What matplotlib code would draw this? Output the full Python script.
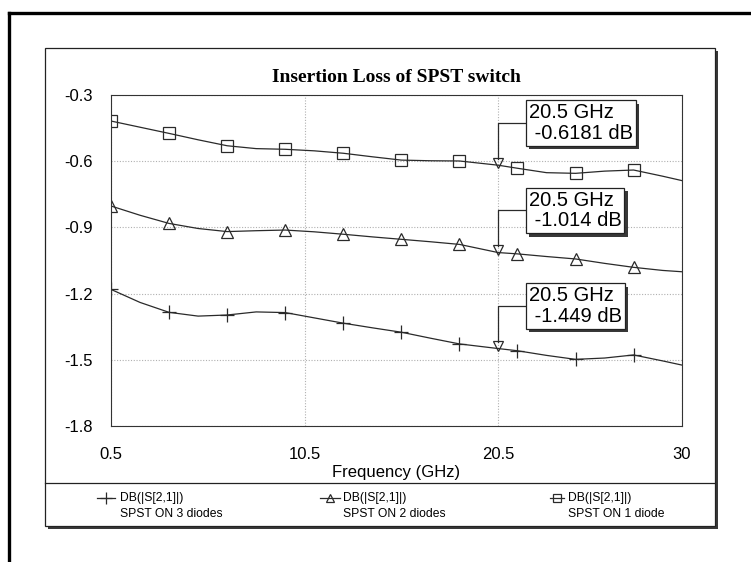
import matplotlib
matplotlib.use("Agg")
import matplotlib.pyplot as plt
import matplotlib.patheffects as pe
from matplotlib.patches import Rectangle
from matplotlib.lines import Line2D

# ---- data ----
freq = [0.5, 2, 3.5, 5, 6.5, 8, 9.5, 11, 12.5, 14, 15.5, 17, 18.5, 20.5,
        21.5, 23, 24.5, 26, 27.5, 29, 30]
s21_1diode = [-0.418, -0.446, -0.474, -0.503, -0.530, -0.543, -0.546, -0.553,
              -0.564, -0.580, -0.595, -0.598, -0.599, -0.6181, -0.632, -0.652,
              -0.655, -0.645, -0.640, -0.668, -0.688]
s21_2diodes = [-0.803, -0.845, -0.882, -0.905, -0.919, -0.915, -0.912, -0.920,
               -0.931, -0.943, -0.954, -0.965, -0.977, -1.014, -1.020, -1.032,
               -1.043, -1.063, -1.081, -1.095, -1.101]
s21_3diodes = [-1.181, -1.240, -1.285, -1.302, -1.297, -1.283, -1.286, -1.310,
               -1.334, -1.355, -1.375, -1.402, -1.428, -1.449, -1.459, -1.480,
               -1.498, -1.492, -1.478, -1.505, -1.524]
marker_idx = [0, 2, 4, 6, 8, 10, 12, 14, 16, 18]
x_ticks = [0.5, 10.5, 20.5, 30]
y_ticks = [-1.8, -1.5, -1.2, -0.9, -0.6, -0.3]
series_names = ["SPST ON 3 diodes", "SPST ON 2 diodes", "SPST ON 1 diode"]
trace_name = "DB(|S[2,1]|)"
marker_freq = 20.5
title = "Insertion Loss of SPST switch"
xlabel = "Frequency (GHz)"

W, H = 751, 562
fig = plt.figure(figsize=(W / 100, H / 100), dpi=100)
fig.patch.set_facecolor("white")

def fx(px):
    return px / W

def fy(py):
    return 1 - py / H

# outer frame (top and left lines)
fig.add_artist(Line2D([fx(9), fx(9)], [fy(13), 0], color="black", lw=2.4,
                      transform=fig.transFigure))
fig.add_artist(Line2D([fx(9), 1], [fy(13), fy(13)], color="black", lw=2.4,
                      transform=fig.transFigure))

# chart box with shadow
box = Rectangle((fx(45), fy(526)), fx(715) - fx(45), fy(48) - fy(526),
                transform=fig.transFigure, fc="white", ec="#222222", lw=0.9,
                zorder=0)
box.set_path_effects([pe.SimplePatchShadow(offset=(2.5, -2.5), shadow_rgbFace="#222222", alpha=0.9),
                      pe.Normal()])
fig.add_artist(box)
fig.add_artist(Line2D([fx(45), fx(715)], [fy(483), fy(483)], color="#222222",
                      lw=0.9, transform=fig.transFigure))

ax = fig.add_axes([fx(111), fy(426), fx(682) - fx(111), fy(95) - fy(426)])
ax.set_facecolor("white")
ax.set_zorder(2)

line_kw = dict(color="#2a2a2a", lw=0.9, mfc="none", mec="#2a2a2a", mew=0.9)
series = [
    (s21_3diodes, "+", 10),
    (s21_2diodes, "^", 8),
    (s21_1diode, "s", 8),
]
for vals, mk, ms in series:
    ax.plot(freq, vals, marker=mk, ms=ms, markevery=marker_idx, **line_kw)

ax.set_xlim(x_ticks[0], x_ticks[-1])
ax.set_ylim(y_ticks[0], y_ticks[-1])
ax.set_xticks(x_ticks)
ax.set_xticklabels([f"{v:g}" for v in x_ticks])
ax.set_yticks(y_ticks)
ax.set_yticklabels([f"{v:g}" for v in y_ticks])
ax.tick_params(axis="both", length=0, labelsize=12)
ax.tick_params(axis="x", pad=15)
ax.tick_params(axis="y", pad=13)
for lab in ax.get_xticklabels() + ax.get_yticklabels():
    lab.set_fontfamily("Liberation Sans")
ax.grid(True, ls=(0, (1, 1.5)), color="#b0b0b0", lw=0.8)
for sp in ax.spines.values():
    sp.set_color("#333333")
    sp.set_linewidth(0.8)

ax.set_xlabel(xlabel, fontsize=12, family="Liberation Sans", labelpad=2)
fig.text(fx(396.5), fy(77), title, ha="center", va="center",
         fontsize=14, fontweight="bold", family="Liberation Serif")

# marker annotations
idx = freq.index(marker_freq)
box_x = 21.93
box_y = [-0.427, -0.823, -1.256]
for vals, by in zip([s21_1diode, s21_2diodes, s21_3diodes], box_y):
    v = vals[idx]
    ax.plot([marker_freq], [v + 0.012], marker="v", ms=7, mfc="none",
            mec="#2a2a2a", mew=0.9, zorder=4)
    ax.plot([marker_freq, marker_freq, box_x], [v + 0.03, by, by],
            color="#2a2a2a", lw=0.9, zorder=4)
    t = ax.text(box_x + 0.15, by, f"{marker_freq:g} GHz\n {v:.4g} dB",
                ha="left", va="center", fontsize=14.5,
                family="Liberation Sans", linespacing=1.1, zorder=6,
                bbox=dict(boxstyle="square,pad=0.15", fc="white",
                          ec="#222222", lw=0.9))
    t.get_bbox_patch().set_path_effects(
        [pe.SimplePatchShadow(offset=(2.5, -2.5), shadow_rgbFace="#222222", alpha=0.9),
         pe.Normal()])

# legend (manual)
leg_x = [(97, 115, 120), (320, 340, 343), (550, 564, 568)]
for (x0, x1, tx), (vals, mk, ms), name in zip(leg_x, series, series_names):
    fig.add_artist(Line2D([fx(x0), fx(x1)], [fy(498), fy(498)],
                          transform=fig.transFigure, color="#2a2a2a", lw=0.9))
    fig.add_artist(Line2D([fx((x0 + x1) / 2)], [fy(498)], marker=mk,
                          ms=ms * 0.8, ls="none", mfc="none", mec="#2a2a2a",
                          mew=0.9, transform=fig.transFigure))
    fig.text(fx(tx), fy(498), trace_name, ha="left", va="center", fontsize=8.7,
             family="Liberation Sans")
    fig.text(fx(tx), fy(514), name, ha="left", va="center", fontsize=8.7,
             family="Liberation Sans")

fig.savefig("out.png", dpi=100)
